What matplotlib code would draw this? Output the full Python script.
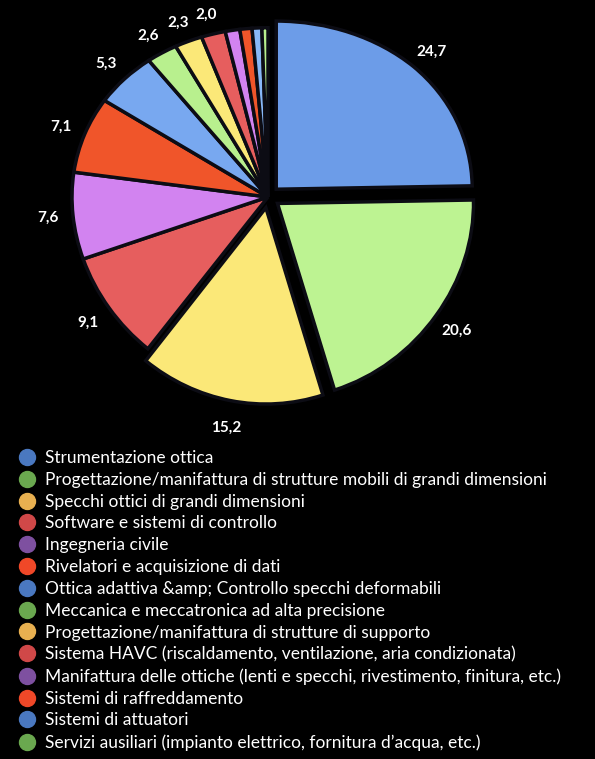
import numpy as np
import matplotlib.pyplot as plt
import matplotlib.transforms as mtransforms
from matplotlib.lines import Line2D

# data (percentages)
categories = [
    "Strumentazione ottica",
    "Progettazione/manifattura di strutture mobili di grandi dimensioni",
    "Specchi ottici di grandi dimensioni",
    "Software e sistemi di controllo",
    "Ingegneria civile",
    "Rivelatori e acquisizione di dati",
    "Ottica adattiva &amp; Controllo specchi deformabili",
    "Meccanica e meccatronica ad alta precisione",
    "Progettazione/manifattura di strutture di supporto",
    "Sistema HAVC (riscaldamento, ventilazione, aria condizionata)",
    "Manifattura delle ottiche (lenti e specchi, rivestimento, finitura, etc.)",
    "Sistemi di raffreddamento",
    "Sistemi di attuatori",
    "Servizi ausiliari (impianto elettrico, fornitura d\u2019acqua, etc.)",
]
values = [24.7, 20.6, 15.2, 9.1, 7.6, 7.1, 5.3, 2.6, 2.3, 2.0, 1.2, 1.0, 0.8, 0.5]

slice_colors = ['#6c9ce8', '#bdf392', '#fbe878', '#e65e5e', '#d283f0', '#f0552a',
                '#78a8f0', '#b8f08e', '#fbe878', '#e65e5e', '#d283f0', '#f0552a',
                '#88b8f8', '#b8f08e']
legend_colors = ['#4a78c0', '#6aa84f', '#e8b050', '#d04848', '#7e50a0', '#f04828',
                 '#4a78c0', '#6aa84f', '#e8b050', '#d04848', '#7e50a0', '#f04828',
                 '#4a78c0', '#6aa84f']


class Tilt(mtransforms.Transform):
    # slight perspective: top of the pie a bit flatter than the bottom
    input_dims = output_dims = 2

    def __init__(self, k):
        super().__init__()
        self.k = k

    def transform_non_affine(self, values):
        v = np.asarray(values, dtype=float)
        x, y = v[:, 0], v[:, 1]
        return np.column_stack([x, y - self.k * y * y])


plt.rcParams['font.family'] = ['Lato', 'DejaVu Sans']

W, H = 595, 759
fig = plt.figure(figsize=(W / 100, H / 100), dpi=100, facecolor='black')

# pie axes: center ~(268,197) px, radii 196 x 182 px
cx, cy, rx, ry = 268, 197, 196, 182
lim = 1.3
ax = fig.add_axes([(cx - lim * rx) / W, (H - cy - lim * ry) / H,
                   2 * lim * rx / W, 2 * lim * ry / H])
ax.set_facecolor('black')

explode = [0.06, 0.06, 0.06] + [0] * (len(values) - 3)
labels = [f"{v:.1f}".replace('.', ',') if v >= 2 else '' for v in values]

wedges, texts = ax.pie(values, labels=labels, colors=slice_colors, startangle=90,
                       counterclock=False, explode=explode, labeldistance=1.13,
                       wedgeprops=dict(edgecolor='#0c0c14', linewidth=2.5),
                       textprops=dict(color='white', fontsize=11, fontweight='bold'))
ax.set_aspect('auto')
ax.set_xlim(-lim, lim)
ax.set_ylim(-lim, lim)
ax.axis('off')

tilt = Tilt(0.07)
for w in wedges:
    w.set_transform(tilt + ax.transData)
for t in texts:
    t.set_transform(tilt + ax.transData)
    t.set_horizontalalignment('center')

handles = [Line2D([], [], marker='o', linestyle='none', markersize=11.5,
                  markerfacecolor=c, markeredgecolor=c) for c in legend_colors]
leg = fig.legend(handles, categories, loc='upper left',
                 bbox_to_anchor=(16.5 / W, 1 - 450 / H), frameon=False,
                 fontsize=12.5, labelspacing=0.335, handletextpad=0.43,
                 handlelength=1.2, borderaxespad=0, borderpad=0)
for t in leg.get_texts():
    t.set_color('white')

fig.savefig('out.png', dpi=100, facecolor='black')
